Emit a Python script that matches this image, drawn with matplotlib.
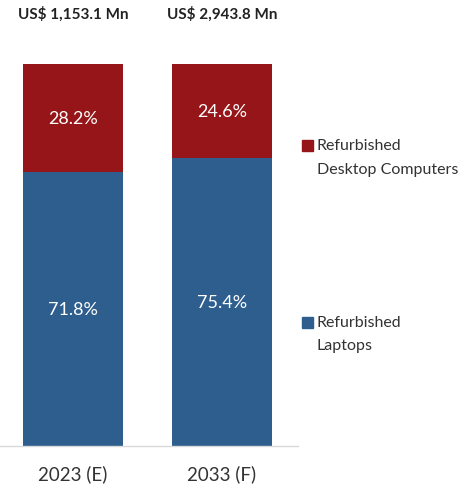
import matplotlib
matplotlib.use("Agg")
import matplotlib.pyplot as plt

plt.rcParams['font.family'] = ['Lato', 'DejaVu Sans']

years = ['2023 (E)', '2033 (F)']
totals = ['US$ 1,153.1 Mn', 'US$ 2,943.8 Mn']
laptops = [71.8, 75.4]
desktops = [28.2, 24.6]

blue = '#2D5E8E'
red = '#961518'

fig = plt.figure(figsize=(4.59, 4.89), dpi=100)
ax = fig.add_axes([0.0, 42 / 489, 298 / 459, 382 / 489])

x = list(range(len(years)))
width = 0.675
ax.bar(x, laptops, width, color=blue, label='Refurbished\nLaptops')
ax.bar(x, desktops, width, bottom=laptops, color=red,
       label='Refurbished\nDesktop Computers')

for i in x:
    ax.text(i, laptops[i] / 2, f'{laptops[i]:.1f}%', ha='center', va='center',
            color='white', fontsize=13)
    ax.text(i, laptops[i] + desktops[i] / 2, f'{desktops[i]:.1f}%', ha='center',
            va='center', color='white', fontsize=13)
    ax.text(i, 113.3, totals[i], ha='center', va='center', fontsize=11,
            fontweight='bold', color='#222222')

ax.set_xlim(-0.49, 1.51)
ax.set_ylim(0, 100)
ax.set_xticks(x)
ax.set_xticklabels(years, fontsize=13.5, color='#333333')
ax.tick_params(axis='x', length=0, pad=13)
ax.set_yticks([])
for side in ['top', 'right', 'left']:
    ax.spines[side].set_visible(False)
ax.spines['bottom'].set_color('#d9d9d9')
ax.spines['bottom'].set_linewidth(1)

# legend entries placed beside each segment
fig.patches.append(plt.Rectangle((302 / 459, 1 - 152 / 489), 11 / 459, 11 / 489,
                                 transform=fig.transFigure, color=red))
fig.text(317 / 459, 1 - 146 / 489, 'Refurbished', fontsize=11.5, va='center',
         color='#333333')
fig.text(317 / 459, 1 - 170 / 489, 'Desktop Computers', fontsize=11.5,
         va='center', color='#333333')
fig.patches.append(plt.Rectangle((302 / 459, 1 - 329 / 489), 11 / 459, 11 / 489,
                                 transform=fig.transFigure, color=blue))
fig.text(317 / 459, 1 - 323 / 489, 'Refurbished', fontsize=11.5, va='center',
         color='#333333')
fig.text(317 / 459, 1 - 346 / 489, 'Laptops', fontsize=11.5, va='center',
         color='#333333')

fig.savefig('out.png', dpi=100)
